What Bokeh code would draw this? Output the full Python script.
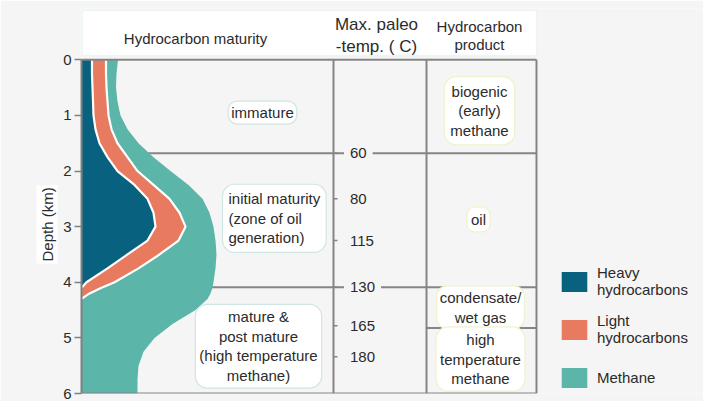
import math
from bokeh.plotting import figure
from bokeh.models import Range1d, FixedTicker, Label, BoxAnnotation, Legend, LegendItem, ColumnDataSource, Title
from bokeh.embed import file_html
from bokeh.resources import INLINE
from bokeh.core.properties import value

# ---------------- data ----------------
depth = [0, 0.25, 0.5, 0.75, 1.0, 1.25, 1.5, 1.75, 2.0, 2.25, 2.5, 2.75, 3.0, 3.25,
         3.5, 3.75, 4.0, 4.1, 4.2, 4.3, 4.5, 4.75, 5.0, 5.25, 5.5, 5.75, 6.0]
heavy_edge = [10.5, 10.5, 11, 11.5, 12, 14, 18, 26, 36, 53, 66, 72, 74, 66,
              46, 26, 5, 0, 0, 0, 0, 0, 0, 0, 0, 0, 0]
light_edge = [24.5, 24.5, 25, 26, 27, 30, 36, 46, 56, 72, 88, 98, 104, 97,
              78, 57, 33, 20, 8, 0, 0, 0, 0, 0, 0, 0, 0]
methane_edge = [36.5, 35, 34.5, 36, 39, 46, 57, 72, 89, 107, 121, 128, 132, 134,
                135, 134, 132, 131, 129, 126, 114, 91, 73, 62, 57, 56, 56]

series_names = ["Heavy\nhydrocarbons", "Light\nhydrocarbons", "Methane"]
series_colors = ["#08617f", "#e87a5f", "#5bb5a9"]

temps = [60, 80, 115, 130, 165, 180]
temp_depths = [1.68, 2.5, 3.25, 4.09, 4.78, 5.34]

zone_boundaries = [1.68, 4.09]      # maturity / temperature zone lines
product_boundaries = [4.82]        # extra line in product column

depth_ticks = [0, 1, 2, 3, 4, 5, 6]

# ---------------- figure ----------------
BG = "#f5f5f5"
FONT = "Liberation Sans"
TXT = "#2b2b2b"

p = figure(frame_width=622, frame_height=385, min_border_left=81, min_border_right=0,
           min_border_top=8, min_border_bottom=8,
           x_range=Range1d(0, 622), y_range=Range1d(6, -0.9227),
           x_axis_location=None, toolbar_location=None, output_backend="svg")
p.background_fill_color = BG
p.border_fill_color = BG
p.outline_line_color = None
p.grid.visible = False

ax = p.yaxis[0]
ax.ticker = FixedTicker(ticks=depth_ticks)
ax.bounds = (0, 6)
ax.axis_line_color = "#808080"
ax.axis_line_width = 2
ax.major_tick_line_color = "#808080"
ax.major_tick_line_width = 1.5
ax.major_tick_out = 7
ax.major_tick_in = 0
ax.minor_tick_line_color = None
ax.major_label_text_font = FONT
ax.major_label_text_font_size = "15px"
ax.major_label_text_color = TXT
ax.major_label_standoff = 3

# axis title with white box, placed beside the depth axis
p.add_layout(Title(text="Depth (km)", align="left", offset=130, standoff=6,
                   text_font=FONT, text_font_size="15px", text_font_style="normal",
                   text_color=TXT, background_fill_color="white", padding=2), "left")

PANEL_R = 455
DIV1 = 252
DIV2 = 345
LINE_C = "#858585"

# zone lines (drawn under the areas)
p.segment(x0=[0] * len(zone_boundaries), x1=[PANEL_R] * len(zone_boundaries),
          y0=zone_boundaries, y1=zone_boundaries, line_color=LINE_C, line_width=2)
p.segment(x0=[DIV2] * len(product_boundaries), x1=[PANEL_R] * len(product_boundaries),
          y0=product_boundaries, y1=product_boundaries, line_color=LINE_C, line_width=2)

zeros = [0] * len(depth)
r_heavy = p.harea(x1=zeros, x2=heavy_edge, y=depth, fill_color=series_colors[0])
r_light = p.harea(x1=heavy_edge, x2=light_edge, y=depth, fill_color=series_colors[1])
r_meth = p.harea(x1=light_edge, x2=methane_edge, y=depth, fill_color=series_colors[2])

nh = heavy_edge.index(0) + 1
nl = light_edge.index(0) + 1
p.line(heavy_edge[:nh], depth[:nh], line_color="white", line_width=2.2)
p.line(light_edge[:nl], depth[:nl], line_color="white", line_width=2.2)

# panel frame + dividers
p.segment(x0=[0, 0, PANEL_R, DIV1, DIV2], x1=[PANEL_R, PANEL_R, PANEL_R, DIV1, DIV2],
          y0=[0, 6, 0, 0, 0], y1=[0, 6, 6, 6, 6], line_color=LINE_C, line_width=2)

# temperature ticks and labels
p.segment(x0=[DIV1] * len(temps), x1=[DIV1 + 4] * len(temps), y0=temp_depths, y1=temp_depths,
          line_color=LINE_C, line_width=1.5)
tsrc = ColumnDataSource(dict(x=[DIV1 + 10.5] * len(temps), y=temp_depths, t=[str(t) for t in temps]))
p.text(x="x", y="y", text="t", source=tsrc, text_font=value(FONT), text_font_size="15px",
       text_color=TXT, text_align="left", text_baseline="middle",
       background_fill_color=BG, padding=6)

# header
p.add_layout(BoxAnnotation(left=1, right=PANEL_R, top=-0.887, bottom=-0.077,
                           fill_color="white", fill_alpha=1, line_color="#d3ecec", line_width=1.5))


def lab(x, y, text, size="15px", align="center", border=None, pad=4, radius=10, bg=None, lh=1.15):
    p.add_layout(Label(x=x, y=y, text=text, text_font=FONT, text_font_size=size, text_color=TXT,
                       text_align=align, text_baseline="middle", text_line_height=lh,
                       background_fill_color=bg, border_line_color=border, border_line_width=1.2,
                       padding=pad, border_radius=radius))


lab(114, -0.383, "Hydrocarbon maturity")
lab(295, -0.437, "Max. paleo\n-temp. ( C)", size="17px", lh=1.18)
lab(398, -0.437, "Hydrocarbon\nproduct", lh=1.1)

# maturity zone boxes
TEAL_B = "#cfe6e2"
YEL_B = "#eef2cc"
lab(181, 0.95, "immature", border=TEAL_B, bg="white", pad=3, radius=9)
lab(141, 2.85, "initial maturity\n(zone of oil\ngeneration)", align="left", border=TEAL_B, bg="white", pad=6, radius=12)
lab(177, 5.15, "mature &\npost mature\n(high temperature\nmethane)", border=TEAL_B, bg="white", pad=4, radius=12)

# product boxes
lab(398, 0.915, "biogenic\n(early)\nmethane", border=YEL_B, bg="white", pad=6, radius=12)
lab(397, 2.87, "oil", border=YEL_B, bg="white", pad=4, radius=8)
lab(399, 4.45, "condensate/\nwet gas", border=YEL_B, bg="white", pad=3, radius=10)
lab(399, 5.38, "high\ntemperature\nmethane", border=YEL_B, bg="white", pad=4, radius=12)

legend = Legend(items=[LegendItem(label=series_names[0], renderers=[r_heavy]),
                       LegendItem(label=series_names[1], renderers=[r_light]),
                       LegendItem(label=series_names[2], renderers=[r_meth])],
                location=(477, -2), glyph_width=32, glyph_height=25, label_standoff=7,
                label_text_font=FONT, label_text_font_size="15px", label_text_color=TXT,
                label_text_line_height=1.1, label_height=36, spacing=12, padding=0, margin=0,
                background_fill_alpha=0, border_line_color=None)
p.add_layout(legend)

open("out.html", "w").write(file_html(p, INLINE))
